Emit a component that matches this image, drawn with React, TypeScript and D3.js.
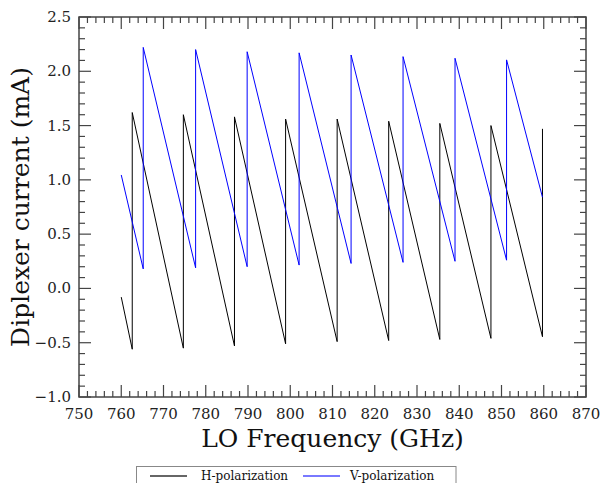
import React from 'react';
import * as d3 from 'd3';

// vertices of the sawtooth traces (GHz, mA)
const hFreq = [760, 762.6, 762.6, 774.7, 774.7, 786.8, 786.8, 798.9, 798.9, 811.1, 811.1, 823.3, 823.3, 835.4, 835.4, 847.5, 847.5, 859.7, 859.7];
const hCurrent = [-0.08, -0.56, 1.62, -0.55, 1.6, -0.53, 1.58, -0.51, 1.56, -0.49, 1.56, -0.48, 1.54, -0.47, 1.52, -0.46, 1.5, -0.445, 1.47];

const vFreq = [760, 765.2, 765.2, 777.6, 777.6, 789.8, 789.8, 802.1, 802.1, 814.4, 814.4, 826.7, 826.7, 839.0, 839.0, 851.2, 851.2, 859.7];
const vCurrent = [1.045, 0.18, 2.22, 0.19, 2.2, 0.2, 2.18, 0.215, 2.17, 0.23, 2.15, 0.24, 2.135, 0.25, 2.12, 0.26, 2.105, 0.84];

const seriesNames = ['H-polarization', 'V-polarization'];
const seriesColors = ['#000000', '#0000ff'];

const xDomain = [750, 870];
const yDomain = [-1.0, 2.5];

const W = 605;
const H = 483;
const margin = { top: 17, right: 19, bottom: 86, left: 79 };

const font = '"DejaVu Serif", serif';

export default function App() {
  const x = d3.scaleLinear().domain(xDomain).range([margin.left, W - margin.right]);
  const y = d3.scaleLinear().domain(yDomain).range([H - margin.bottom, margin.top]);

  const x0 = x.range()[0], x1 = x.range()[1];
  const y0 = y.range()[0], y1 = y.range()[1];

  const xMajor = x.ticks(12);
  const xMinor = x.ticks(60).filter((t) => !xMajor.some((m) => Math.abs(m - t) < 1e-6));
  const yMajor = y.ticks(7);
  const yMinor = y.ticks(35).filter((t) => !yMajor.some((m) => Math.abs(m - t) < 1e-6));

  const line = d3
    .line<[number, number]>()
    .x((d) => x(d[0]))
    .y((d) => y(d[1]));

  const hPts = hFreq.map((f, i) => [f, hCurrent[i]] as [number, number]);
  const vPts = vFreq.map((f, i) => [f, vCurrent[i]] as [number, number]);

  const axisColor = '#444';
  const major = 12;
  const minor = 6;

  return (
    <svg width={W} height={H} style={{ position: 'absolute', left: 0, top: 0, background: '#fff' }}>
      <path d={line(hPts) || ''} fill="none" stroke={seriesColors[0]} strokeWidth={1} />
      <path d={line(vPts) || ''} fill="none" stroke={seriesColors[1]} strokeWidth={1} />

      {/* ticks, inward on all four sides */}
      <g stroke={axisColor} strokeWidth={1.2}>
        {xMajor.map((t) => (
          <g key={'xM' + t}>
            <line x1={x(t)} x2={x(t)} y1={y0} y2={y0 - major} />
            <line x1={x(t)} x2={x(t)} y1={y1} y2={y1 + major} />
          </g>
        ))}
        {xMinor.map((t) => (
          <g key={'xm' + t}>
            <line x1={x(t)} x2={x(t)} y1={y0} y2={y0 - minor} />
            <line x1={x(t)} x2={x(t)} y1={y1} y2={y1 + minor} />
          </g>
        ))}
        {yMajor.map((t) => (
          <g key={'yM' + t}>
            <line x1={x0} x2={x0 + major} y1={y(t)} y2={y(t)} />
            <line x1={x1} x2={x1 - major} y1={y(t)} y2={y(t)} />
          </g>
        ))}
        {yMinor.map((t) => (
          <g key={'ym' + t}>
            <line x1={x0} x2={x0 + minor} y1={y(t)} y2={y(t)} />
            <line x1={x1} x2={x1 - minor} y1={y(t)} y2={y(t)} />
          </g>
        ))}
      </g>
      <rect x={x0} y={y1} width={x1 - x0} height={y0 - y1} fill="none" stroke={axisColor} strokeWidth={1.5} />

      {/* tick labels */}
      <g fontFamily={font} fontSize={15} fill="#222">
        {xMajor.map((t) => (
          <text key={'xl' + t} x={x(t)} y={y0 + 22} textAnchor="middle">
            {t}
          </text>
        ))}
        {yMajor.map((t) => (
          <text key={'yl' + t} x={x0 - 8} y={y(t) + 5} textAnchor="end">
            {d3.format('.1f')(t)}
          </text>
        ))}
      </g>

      {/* axis titles */}
      <text x={(x0 + x1) / 2} y={447} textAnchor="middle" fontFamily={font} fontSize={25} fill="#111">
        LO Frequency (GHz)
      </text>
      <text
        transform={`translate(29, ${(y0 + y1) / 2}) rotate(-90)`}
        textAnchor="middle"
        fontFamily={font}
        fontSize={25}
        fill="#111"
      >
        Diplexer current (mA)
      </text>

      {/* legend */}
      <rect x={136.5} y={466.5} width={319.5} height={30} fill="#fff" stroke="#888" strokeWidth={1} />
      <line x1={150} x2={187} y1={476} y2={476} stroke="#333" strokeWidth={1.3} />
      <text x={201} y={480} fontFamily={font} fontSize={12} fill="#111">
        {seriesNames[0]}
      </text>
      <line x1={303} x2={340} y1={476} y2={476} stroke="#4d4dff" strokeWidth={1.3} />
      <text x={350} y={480} fontFamily={font} fontSize={12} fill="#111">
        {seriesNames[1]}
      </text>
    </svg>
  );
}
